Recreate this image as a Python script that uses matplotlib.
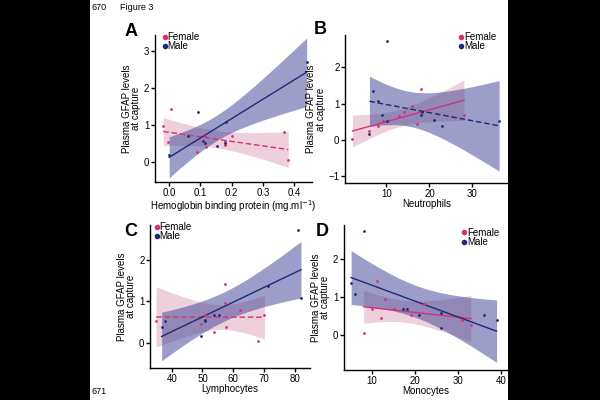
import numpy as np
import matplotlib
matplotlib.use('Agg')
import matplotlib.pyplot as plt
from matplotlib.lines import Line2D

plt.rcParams['font.family'] = ['Liberation Sans', 'DejaVu Sans']

# --- dane ---
# A: Hemoglobin binding protein
hbp_f_x = [-0.019, 0.005, -0.005, 0.09, 0.115, 0.118, 0.2, 0.18, 0.18, 0.368, 0.381]
hbp_f_y = [0.95, 1.41, 0.52, 0.25, 0.68, 0.39, 0.69, 0.45, 0.56, 0.79, 0.05]
hbp_m_x = [0.0, 0.059, 0.091, 0.109, 0.114, 0.154, 0.178, 0.183, 0.44]
hbp_m_y = [0.18, 0.68, 1.35, 0.57, 0.51, 0.41, 0.51, 1.08, 2.7]

# B: Neutrophils
neu_f_x = [2.1, 6.05, 9.2, 8.1, 13.0, 14.0, 16.0, 18.0, 17.0, 28.0]
neu_f_y = [0.02, 0.25, 0.51, 0.37, 0.66, 0.78, 0.94, 1.41, 0.43, 0.67]
neu_m_x = [6.05, 6.9, 8.1, 9.05, 10.1, 10.1, 18.0, 18.3, 21.1, 23.0, 36.2]
neu_m_y = [0.16, 1.35, 1.08, 0.67, 0.51, 2.74, 0.67, 0.78, 0.55, 0.39, 0.53]

# C: Lymphocytes
lym_f_x = [34.9, 49.6, 50.7, 53.6, 57.4, 57.4, 57.6, 62.3, 68.0, 70.2]
lym_f_y = [0.53, 0.44, 0.68, 0.26, 1.41, 0.95, 0.39, 0.80, 0.04, 0.68]
lym_m_x = [36.7, 37.8, 49.6, 50.7, 50.7, 53.6, 55.5, 71.3, 81.1, 82.1]
lym_m_y = [0.39, 0.53, 0.17, 0.52, 0.56, 0.68, 0.68, 1.36, 2.72, 1.07]

# D: Monocytes
mon_f_x = [8.0, 10.0, 11.2, 12.0, 13.0, 15.1, 19.0, 22.0, 31.0, 33.0]
mon_f_y = [0.05, 0.68, 1.42, 0.43, 0.95, 0.68, 0.53, 0.80, 0.40, 0.26]
mon_m_x = [5.1, 6.1, 8.0, 17.1, 18.1, 21.0, 26.1, 26.1, 36.0, 39.0]
mon_m_y = [1.36, 1.08, 2.73, 0.68, 0.68, 0.53, 0.18, 0.57, 0.53, 0.40]

FEM = '#d6307a'
MAL = '#1e2a78'
FEM_BAND = '#d48aa8'
MAL_BAND = '#3a3f94'

T975 = {6: 2.447, 7: 2.365, 8: 2.306, 9: 2.262, 10: 2.228, 11: 2.201, 12: 2.179}


def fit_band(x, y):
    # regresja liniowa + 95% przedzial ufnosci (jak geom_smooth)
    x = np.asarray(x, float)
    y = np.asarray(y, float)
    n = len(x)
    b, a = np.polyfit(x, y, 1)
    xs = np.linspace(x.min(), x.max(), 100)
    yh = a + b * xs
    res = y - (a + b * x)
    s = np.sqrt(np.sum(res ** 2) / (n - 2))
    sxx = np.sum((x - x.mean()) ** 2)
    w = T975[n - 2] * s * np.sqrt(1.0 / n + (xs - x.mean()) ** 2 / sxx)
    return xs, yh, yh - w, yh + w


def panel(rect, fx, fy, mx, my, f_ls, m_ls, xlim, ylim, xticks, yticks, xlab, legpos):
    ax = fig.add_axes(rect)
    xs, yh, lo, hi = fit_band(fx, fy)
    ax.fill_between(xs, lo, hi, color=FEM_BAND, alpha=0.4, lw=0)
    xs2, yh2, lo2, hi2 = fit_band(mx, my)
    ax.fill_between(xs2, lo2, hi2, color=MAL_BAND, alpha=0.5, lw=0)
    ax.plot(xs, yh, color=FEM, lw=1.0, ls=f_ls, dashes=(4, 2) if f_ls == '--' else (None, None))
    ax.plot(xs2, yh2, color=MAL, lw=1.0, ls=m_ls, dashes=(4, 2) if m_ls == '--' else (None, None))
    ax.scatter(fx, fy, s=4, color=FEM, lw=0, zorder=3)
    ax.scatter(mx, my, s=4, color=MAL, lw=0, zorder=3)
    ax.set_xlim(xlim)
    ax.set_ylim(ylim)
    ax.set_xticks(xticks)
    ax.set_yticks(yticks)
    ax.spines['top'].set_visible(False)
    ax.spines['right'].set_visible(False)
    ax.spines['left'].set_linewidth(1.0)
    ax.spines['bottom'].set_linewidth(1.0)
    ax.tick_params(labelsize=7, length=3, width=1, pad=1)
    ax.set_xlabel(xlab, fontsize=7, labelpad=0.5)
    ax.set_ylabel('Plasma GFAP levels\nat capture', fontsize=7, labelpad=2, linespacing=0.9)
    handles = [Line2D([], [], marker='o', ls='', color=FEM, markersize=3),
               Line2D([], [], marker='o', ls='', color=MAL, markersize=3)]
    ax.legend(handles, ['Female', 'Male'], loc='upper left', bbox_to_anchor=legpos,
              frameon=False, fontsize=7, handlelength=0.4, handletextpad=0.1,
              labelspacing=-0.1, borderaxespad=0, borderpad=0)
    return ax


fig = plt.figure(figsize=(6, 4), dpi=100)
fig.patch.set_facecolor('black')
fig.patches.append(plt.Rectangle((0.15, 0), 0.697, 1, transform=fig.transFigure,
                                 facecolor='white', edgecolor='none', zorder=-1))

panel([0.258, 0.545, 0.262, 0.3675], hbp_f_x, hbp_f_y, hbp_m_x, hbp_m_y, '--', '-',
      (-0.046, 0.457), (-0.55, 3.42), [0.0, 0.1, 0.2, 0.3, 0.4], [0, 1, 2, 3],
      'Hemoglobin binding protein (mg.ml$^{-1}$)', (0.05, 1.02))
panel([0.575, 0.5425, 0.272, 0.37], neu_f_x, neu_f_y, neu_m_x, neu_m_y, '-', '--',
      (0.36, 38.3), (-1.2, 2.9), [10, 20, 30], [-1, 0, 1, 2],
      'Neutrophils', (0.70, 1.02))
panel([0.25, 0.08, 0.267, 0.3575], lym_f_x, lym_f_y, lym_m_x, lym_m_y, '--', '-',
      (32.9, 85.1), (-0.61, 2.84), [40, 50, 60, 70, 80], [0, 1, 2],
      'Lymphocytes', (0.03, 1.02))
panel([0.573, 0.075, 0.274, 0.3625], mon_f_x, mon_f_y, mon_m_x, mon_m_y, '-', '-',
      (3.4, 41.7), (-0.92, 2.88), [10, 20, 30, 40], [0, 1, 2],
      'Monocytes', (0.72, 0.98))

for lt, x, y in [('A', 131, 32), ('B', 320, 30), ('C', 131, 232), ('D', 322, 232)]:
    fig.text(x / 600, 1 - y / 400, lt, fontsize=13, fontweight='bold', ha='center', va='center')

fig.text(91 / 600, 1 - 8 / 400, '670', fontsize=6.5, va='center')
fig.text(120 / 600, 1 - 8 / 400, 'Figure 3', fontsize=6.5, va='center')
fig.text(91 / 600, 1 - 392 / 400, '671', fontsize=6.5, va='center')

fig.savefig('out.png', dpi=100, facecolor=fig.get_facecolor())
